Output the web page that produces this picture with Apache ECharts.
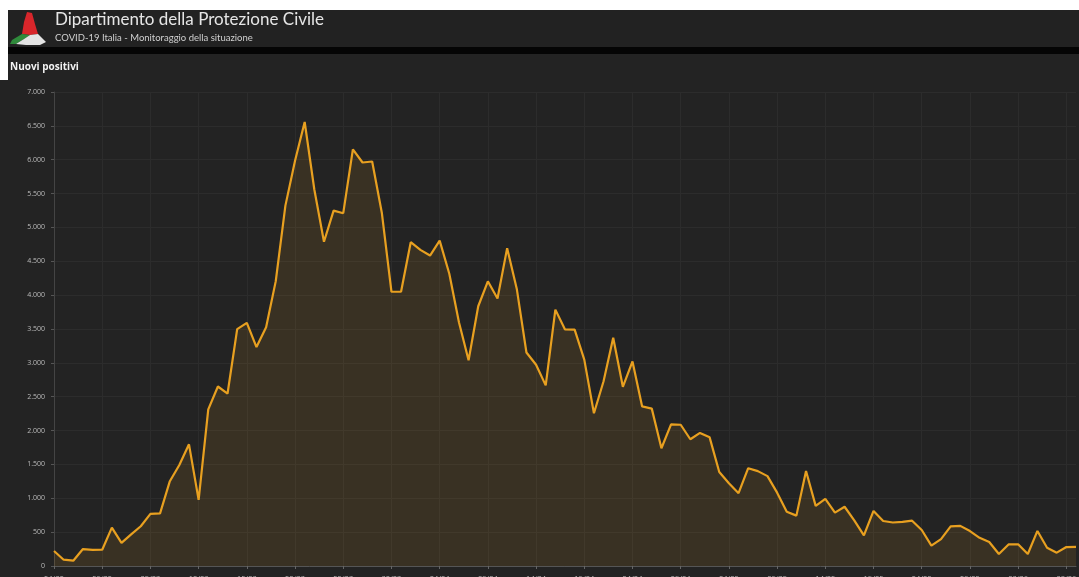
<!DOCTYPE html>
<html>
<head>
<meta charset="utf-8">
<script src="https://cdn.jsdelivr.net/npm/echarts@6/dist/echarts.min.js"></script>
<style>
  html, body { margin: 0; padding: 0; background: #ffffff; }
  #chart { width: 1079px; height: 577px; }
</style>
</head>
<body>
<div id="chart"></div>
<script>
const dates = [
  "24/02","25/02","26/02","27/02","28/02","29/02",
  "01/03","02/03","03/03","04/03","05/03","06/03","07/03","08/03","09/03","10/03",
  "11/03","12/03","13/03","14/03","15/03","16/03","17/03","18/03","19/03","20/03",
  "21/03","22/03","23/03","24/03","25/03","26/03","27/03","28/03","29/03","30/03","31/03",
  "01/04","02/04","03/04","04/04","05/04","06/04","07/04","08/04","09/04","10/04",
  "11/04","12/04","13/04","14/04","15/04","16/04","17/04","18/04","19/04","20/04",
  "21/04","22/04","23/04","24/04","25/04","26/04","27/04","28/04","29/04","30/04",
  "01/05","02/05","03/05","04/05","05/05","06/05","07/05","08/05","09/05","10/05",
  "11/05","12/05","13/05","14/05","15/05","16/05","17/05","18/05","19/05","20/05",
  "21/05","22/05","23/05","24/05","25/05","26/05","27/05","28/05","29/05","30/05","31/05",
  "01/06","02/06","03/06","04/06","05/06","06/06","07/06","08/06","09/06"
];
const nuoviPositivi = [
  221, 93, 78, 250, 238, 240,
  566, 342, 466, 587, 769, 778, 1247, 1492, 1797, 977,
  2313, 2651, 2547, 3497, 3590, 3233, 3526, 4207, 5322, 5986,
  6557, 5560, 4789, 5249, 5210, 6153, 5959, 5974, 5217, 4050, 4053,
  4782, 4668, 4585, 4805, 4316, 3599, 3039, 3836, 4204, 3951,
  4694, 4092, 3153, 2972, 2667, 3786, 3493, 3491, 3047, 2256,
  2729, 3370, 2646, 3021, 2357, 2324, 1739, 2091, 2086, 1872,
  1965, 1900, 1389, 1221, 1075, 1444, 1401, 1327, 1083, 802,
  744, 1402, 888, 992, 789, 875, 675, 451, 813, 665,
  642, 652, 669, 531, 300, 397, 584, 593, 516, 416, 355,
  178, 318, 321, 177, 518, 270, 197, 280, 283
];
const headerTitle = "Dipartimento della Protezione Civile";
const headerSubtitle = "COVID-19 Italia - Monitoraggio della situazione";
const chartTitle = "Nuovi positivi";

const chart = echarts.init(document.getElementById('chart'));
const fmt = v => String(v).replace(/\B(?=(\d{3})+(?!\d))/g, '.');

chart.setOption({
  backgroundColor: '#ffffff',
  animation: false,
  graphic: [
    { type: 'rect', shape: { x: 0, y: 0, width: 1079, height: 577 }, style: { fill: '#232323' }, z: -10 },
    { type: 'rect', shape: { x: 0, y: 0, width: 1079, height: 10 }, style: { fill: '#ffffff' }, z: -9 },
    { type: 'rect', shape: { x: 0, y: 0, width: 8, height: 80 }, style: { fill: '#ffffff' }, z: -9 },
    { type: 'rect', shape: { x: 8, y: 10, width: 1071, height: 37 }, style: { fill: '#222222' }, z: -9 },
    { type: 'rect', shape: { x: 8, y: 47, width: 1071, height: 7 }, style: { fill: '#050505' }, z: -9 },
    // logo
    { type: 'polygon', shape: { points: [[27,12],[32,13],[35,24],[38,34],[30,35],[22,34],[24,22]] }, style: { fill: '#d8262b' }, z: 5 },
    { type: 'polygon', shape: { points: [[22,34],[30,35],[24,39],[16,44],[10,44],[12,40]] }, style: { fill: '#2f8a3b' }, z: 5 },
    { type: 'polygon', shape: { points: [[30,35],[38,34],[46,42],[40,45],[26,45],[16,44],[24,39]] }, style: { fill: '#e4e4e4' }, z: 5 },
    { type: 'text', left: 55, top: 11, style: { text: headerTitle, fill: '#e6e6e6', font: '17px Lato, "Open Sans", sans-serif' } },
    { type: 'text', left: 55, top: 33, style: { text: headerSubtitle, fill: '#d0d0d0', font: '9.5px Lato, "Open Sans", sans-serif' } },
    { type: 'text', left: 10, top: 62, style: { text: chartTitle, fill: '#f2f2f2', font: 'bold 10px "Open Sans", sans-serif' } }
  ],
  grid: { left: 54, right: 3, top: 92, bottom: 11, containLabel: false, outerBoundsMode: 'none' },
  xAxis: {
    type: 'category',
    data: dates,
    boundaryGap: false,
    axisLine: { lineStyle: { color: '#555555', width: 1 } },
    axisTick: { show: true, interval: 4, length: 3, lineStyle: { color: '#666666' } },
    axisLabel: { interval: 4, color: '#bbbbbb', fontSize: 7.5, margin: 9, fontFamily: 'Open Sans' },
    splitLine: { show: true, interval: 4, lineStyle: { color: '#2c2c2c', width: 1 } }
  },
  yAxis: {
    type: 'value',
    min: 0, max: 7000, interval: 500,
    axisLine: { show: true, lineStyle: { color: '#444444' } },
    axisTick: { show: true, length: 3, lineStyle: { color: '#555555' } },
    axisLabel: { color: '#bbbbbb', fontSize: 7, margin: 9, fontFamily: 'Open Sans', formatter: fmt },
    splitLine: { show: true, lineStyle: { color: '#2c2c2c', width: 1 } }
  },
  series: [{
    type: 'line',
    data: nuoviPositivi,
    symbol: 'none',
    lineStyle: { color: '#e8a020', width: 2.2 },
    areaStyle: { color: 'rgba(232,160,32,0.16)' }
  }]
});
</script>
</body>
</html>
